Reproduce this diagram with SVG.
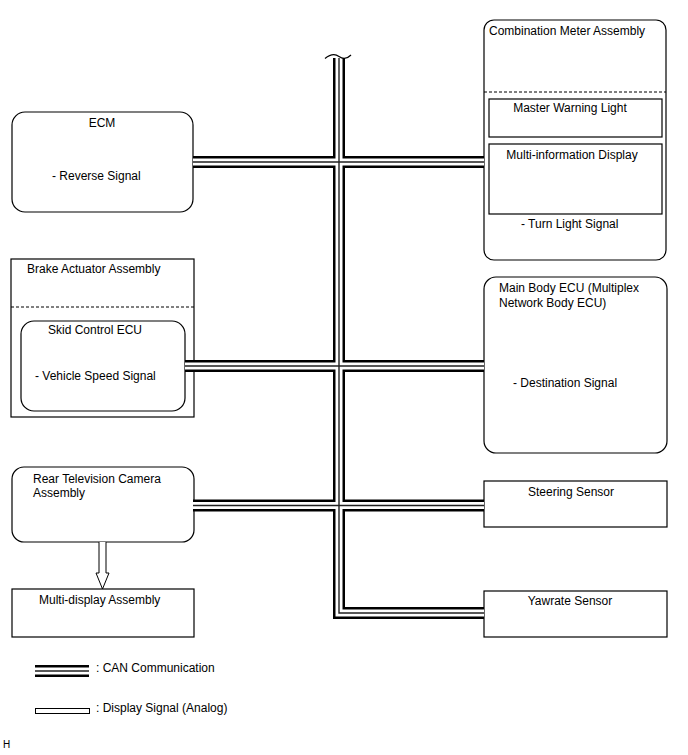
<svg xmlns="http://www.w3.org/2000/svg" width="688" height="755" viewBox="0 0 688 755">
<style>
text{font-family:"Liberation Sans",Arial,sans-serif;font-size:12px;fill:#000}
.b{fill:#fff;stroke:#000;stroke-width:1.2}
.d{fill:none;stroke:#000;stroke-width:1;stroke-dasharray:3,2}
.bo{fill:none;stroke:#000;stroke-width:12}
.bw{fill:none;stroke:#fff;stroke-width:7}
.bc{fill:none;stroke:#222;stroke-width:1.4}
.m{text-anchor:middle}
</style>
<rect width="688" height="755" fill="#fff"/>
<g id="ecm">
<rect class="b" x="12" y="112" width="181" height="100" rx="13"/>
<text class="m" x="102" y="127">ECM</text>
<text x="52" y="180">- Reverse Signal</text>
</g>
<g id="combination-meter">
<rect class="b" x="484" y="20" width="182" height="240" rx="10"/>
<text x="489" y="35">Combination Meter Assembly</text>
<line class="d" x1="484" y1="92" x2="666" y2="92"/>
<rect class="b" x="489" y="99" width="173" height="38"/>
<text class="m" x="570" y="112">Master Warning Light</text>
<rect class="b" x="489" y="144" width="173" height="70"/>
<text class="m" x="572" y="159">Multi-information Display</text>
<text x="521" y="228">- Turn Light Signal</text>
</g>
<g id="brake-actuator">
<rect class="b" x="11" y="259" width="183" height="158"/>
<text x="27" y="273">Brake Actuator Assembly</text>
<line class="d" x1="11" y1="307" x2="194" y2="307"/>
<rect class="b" x="21" y="321" width="164" height="90" rx="13"/>
<text x="48" y="334">Skid Control ECU</text>
<text x="35" y="380">- Vehicle Speed Signal</text>
</g>
<g id="main-body-ecu">
<rect class="b" x="484" y="277" width="183" height="176" rx="12"/>
<text x="499" y="292">Main Body ECU (Multiplex</text>
<text x="499" y="307">Network Body ECU)</text>
<text x="513" y="387">- Destination Signal</text>
</g>
<g id="rear-camera">
<rect class="b" x="12" y="467" width="182" height="75" rx="12"/>
<text x="33" y="483">Rear Television Camera</text>
<text x="33" y="497">Assembly</text>
</g>
<g id="steering-sensor">
<rect class="b" x="484" y="481" width="183" height="46"/>
<text class="m" x="571" y="496">Steering Sensor</text>
</g>
<g id="multi-display">
<rect class="b" x="12" y="589" width="182" height="48"/>
<text x="39" y="604">Multi-display Assembly</text>
</g>
<g id="yawrate-sensor">
<rect class="b" x="484" y="591" width="183" height="46"/>
<text class="m" x="570" y="605">Yawrate Sensor</text>
</g>
<g id="connectors">
<path class="bo" d="M339 58V613H484M193 162H484M185 366H484M193 505.5H484M35 671H89"/>
<path class="bw" d="M339 58V613H484M193 162H484M185 366H484M193 505.5H484M35 671H89"/>
<path class="bc" d="M339 58V613H484M193 162H484M185 366H484M193 505.5H484M35 671H89"/>
<path d="M325 58.5Q333 52 339 56.5T351 55" fill="none" stroke="#000" stroke-width="1.2"/>
<path d="M99 542V573H96L102.5 589L109 573H106V542" fill="#fff" stroke="#000" stroke-width="1"/>
<rect x="35.5" y="708.5" width="54" height="5" fill="#fff" stroke="#000" stroke-width="1"/>
</g>
<g id="legend">
<text x="96" y="672">: CAN Communication</text>
<text x="96" y="712">: Display Signal (Analog)</text>
</g>
<text x="3" y="748" style="font-size:10px">H</text>
</svg>
